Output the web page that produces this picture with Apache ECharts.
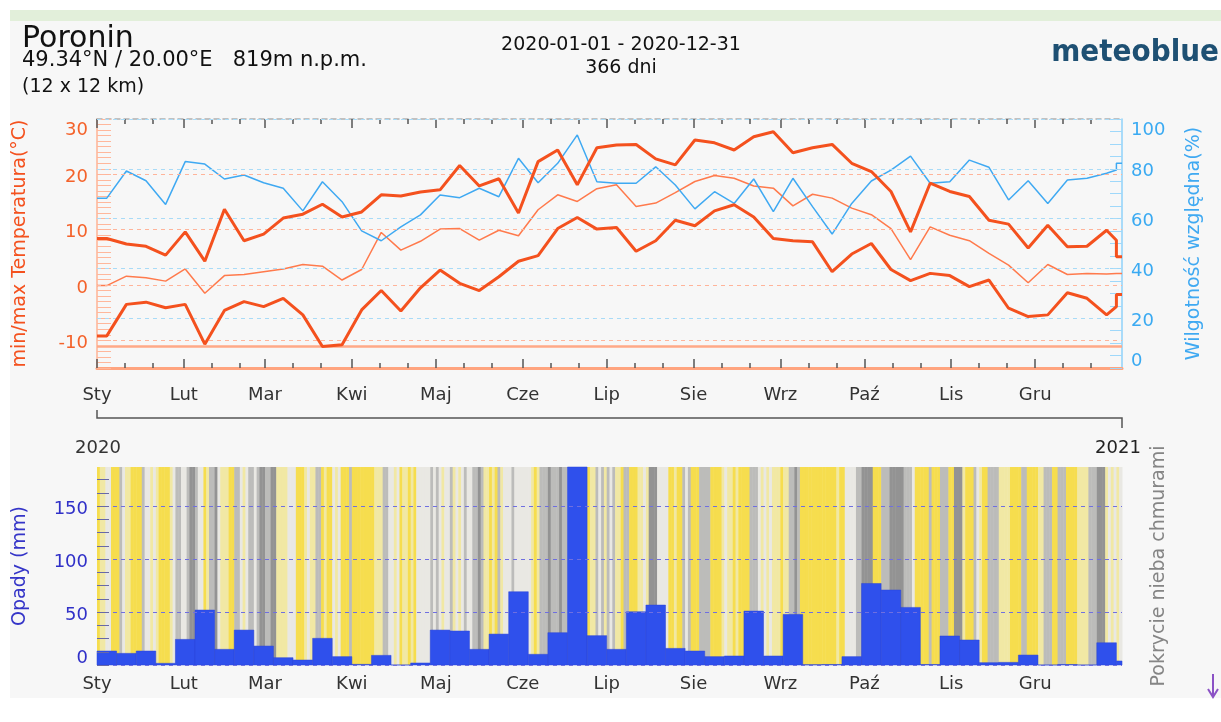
<!DOCTYPE html>
<html lang="pl">
<head>
  <meta charset="UTF-8">
  <title>Poronin 2020</title>
  <script src="https://cdn.jsdelivr.net/npm/echarts@6.0.0/dist/echarts.min.js"></script>
  <style>
    html,
    body {
      padding: 0;
      margin: 0;
      background: #fff;
    }

    #chart {
      width: 1221px;
      height: 722px;
    }
  </style>
</head>

<body>
  <div id="chart"></div>
  <script>
    // miesiące (dzień roku 2020, od 0)
    const months = ['Sty', 'Lut', 'Mar', 'Kwi', 'Maj', 'Cze', 'Lip', 'Sie', 'Wrz', 'Paź', 'Lis', 'Gru']
    const monthStart = [0, 31, 60, 91, 121, 152, 182, 213, 244, 274, 305, 335]

    // wartości tygodniowe (52 pełne tygodnie)
    const tMax = [8.4, 7.4, 7.0, 5.4, 9.6, 4.3, 13.7, 8.0, 9.2, 12.1, 12.8, 14.6, 12.3, 13.2, 16.3, 16.1, 16.8, 17.2, 21.6, 17.9,
      19.2, 13.0, 22.3, 24.4, 18.1, 24.8, 25.3, 25.4, 22.8, 21.7, 26.2, 25.7, 24.4, 26.8, 27.7, 23.9, 24.8, 25.4, 22.0, 20.5,
      16.9, 9.6, 18.4, 16.9, 16.0, 11.7, 11.0, 6.7, 10.8, 6.9, 7.0, 9.9]
    const tMean = [-0.1, 1.6, 1.3, 0.7, 2.9, -1.5, 1.7, 1.9, 2.4, 2.9, 3.7, 3.4, 0.9, 2.8, 9.5, 6.3, 7.9, 10.1, 10.2, 8.1,
      9.9, 8.9, 13.6, 16.3, 15.1, 17.4, 18.1, 14.2, 14.8, 16.7, 18.7, 19.8, 19.3, 17.9, 17.5, 14.3, 16.4, 15.7, 13.9, 12.7,
      10.2, 4.6, 10.5, 9.0, 8.0, 5.7, 3.6, 0.4, 3.7, 1.9, 2.1, 2.0]
    const tMin = [-9.2, -3.5, -3.1, -4.1, -3.5, -10.7, -4.6, -3.0, -3.9, -2.4, -5.4, -11.1, -10.8, -4.5, -1.0, -4.7, -0.5, 2.7, 0.3, -1.0,
      1.5, 4.3, 5.3, 10.2, 12.2, 10.1, 10.4, 6.1, 8.0, 11.7, 10.7, 13.4, 14.5, 12.3, 8.4, 8.0, 7.8, 2.4, 5.6, 7.5,
      2.8, 0.8, 2.1, 1.7, -0.3, 0.9, -4.2, -5.7, -5.4, -1.4, -2.4, -5.4]
    const humidity = [68.2, 79.1, 75.2, 65.7, 82.9, 81.9, 75.9, 77.5, 74.4, 72.2, 63.1, 74.8, 66.8, 55.1, 51.1, 56.7, 61.5, 69.5, 68.4, 72.2,
      68.8, 84.2, 74.4, 82.2, 93.6, 74.8, 74.2, 74.2, 80.8, 73.5, 63.9, 70.8, 66.1, 75.9, 62.8, 76.2, 64.8, 53.8, 66.1, 75.1,
      79.5, 85.1, 74.2, 74.8, 83.5, 80.6, 67.5, 75.2, 66.1, 75.5, 76.2, 78.2]
    // końcówka roku: wartość przed skokiem i dla ostatnich 2 dni (30-31 XII)
    const tMaxEnd = [8.1, 5.1]
    const tMeanEnd = [2.1, 2.1]
    const tMinEnd = [-3.9, -1.7]
    const humidityEnd = [79.5, 82.2]

    // opady tygodniowe (mm), 53 słupki, ostatni 2-dniowy
    const precip = [13.2, 11.0, 13.2, 1.6, 24.2, 51.9, 14.8, 33.0, 17.9, 6.9, 4.7, 25.2, 7.9, 0.6, 9.1, 0, 1.9,
      33.0, 32.1, 14.8, 29.2, 69.2, 10.1, 30.5, 190, 27.7, 14.8, 50.3, 56.6, 15.7, 13.2, 7.9, 8.5, 50.9, 8.5, 47.8,
      0.3, 0.5, 7.9, 77.0, 70.8, 54.4, 0.5, 27.4, 23.6, 2.2, 2.5, 9.4, 0, 0.5, 0, 21.0, 3.8]

    // zachmurzenie dzienne, 0 = słonecznie ... 4 = pochmurno (366 dni)
    const cloudDays =
      '01122000321100003221210000123322344322013342111003321233234433441111222000121133010021200' + '03' +
      '00000000111332212011010222223232122312123223343110103122232222221013334333433232333101132313231' +
      '10330001121444222200100323000333300001211010000333212121110113343000000000000010022223344440' +
      '0033344444333200000300033300444100032100333311110000330000113330033300001111333444121212'

    const tempLabels = [-10, 0, 10, 20, 30]
    const tempGrid = [-10, 0, 10, 20]

    const FONT = 'DejaVu Sans'
    const C_T = '#f4511e'
    const C_TL = '#ff7a4c'
    const C_H = '#3fa9f2'
    const C_P = '#2f50ec'
    const cloudColors = ['#f6dd4e', '#f1e8a4', '#e9e8e3', '#bcbcba', '#939393']

    function weekly(vals, end) {
      const pts = [[0, vals[0]]]
      vals.forEach((v, k) => pts.push([3.5 + 7 * k, v]))
      pts.push([364, end[0]], [364, end[1]], [366, end[1]])
      return pts
    }

    // położenia kresek osi
    const tickMajor = monthStart
    const tickMinor = []
    monthStart.forEach(d => tickMinor.push(d + 10, d + 20))
    const tempTicks = []
    for (let t = -15; t <= 30; t++) tempTicks.push(t)
    const humTicks = []
    for (let h = 0; h <= 100; h += 5) humTicks.push(h)
    const precipTicks = []
    for (let p = 0; p <= 187; p += 12.5) precipTicks.push(p)

    const cloudData = cloudDays.split('').map((c, i) => [i, +c])
    const precipData = precip.map((v, k) => [7 * k, Math.min(7 * k + 7, 366), v])

    function rich(color, size) {
      const base = { color: color, fontSize: size, fontFamily: FONT }
      return {
        n: Object.assign({ padding: [6, 0, 0, 0] }, base),
        top: Object.assign({ padding: [22, 0, 0, 0] }, base),
        bot: Object.assign({ padding: [0, 0, 14, 0] }, base)
      }
    }

    function monthAxis(grid, pos, ticks, len, label, margin) {
      return {
        type: 'value', gridIndex: grid, min: 0, max: 366, position: pos,
        axisLine: { show: false, onZero: false },
        axisTick: ticks ? { customValues: ticks, inside: true, length: len, lineStyle: { color: '#555', width: 1.5 } } : { show: false },
        axisLabel: label ? {
          customValues: monthStart, margin: margin, color: '#333', fontSize: 18,
          formatter: v => months[monthStart.indexOf(v)]
        } : { show: false },
        splitLine: { show: false }
      }
    }

    const xTopBottom = monthAxis(0, 'bottom', tickMajor, 9, true, 18)
    xTopBottom.axisLine = { show: true, onZero: false, lineStyle: { color: '#ffa47f', width: 3 } }
    const xTopTop = monthAxis(0, 'top', tickMajor, 9, false)
    xTopTop.axisLine = { show: true, onZero: false, lineStyle: { color: '#b0b0b0', width: 1.5, type: [5, 4] } }

    const chart = echarts.init(document.getElementById('chart'))
    chart.setOption({
      animation: false,
      backgroundColor: '#fff',
      textStyle: { fontFamily: FONT },
      grid: [
        { left: 97, right: 99, top: 119, height: 249 },
        { left: 97, right: 99, top: 467, height: 198 }
      ],
      xAxis: [
        xTopBottom,
        monthAxis(0, 'bottom', tickMinor, 5, false),
        xTopTop,
        monthAxis(0, 'top', tickMinor, 5, false),
        monthAxis(1, 'bottom', null, 0, true, 10)
      ],
      yAxis: [
        {
          type: 'value', gridIndex: 0, min: -15, max: 30, position: 'left',
          name: 'min/max Temperatura(°C)', nameLocation: 'middle', nameGap: 67,
          nameTextStyle: { color: C_T, fontSize: 19 },
          axisLine: { show: true, onZero: false, lineStyle: { color: '#ffb394', width: 1.5 } },
          axisTick: { customValues: tempTicks, inside: true, length: 14, lineStyle: { color: '#ffb79b', width: 1 } },
          axisLabel: {
            customValues: tempLabels, margin: 9,
            formatter: v => v === 30 ? '{top|30}' : '{n|' + v + '}',
            rich: rich('#f4622a', 18)
          },
          splitLine: { show: false }
        },
        {
          type: 'value', gridIndex: 0, min: 0, max: 100, interval: 20, position: 'right',
          name: 'Wilgotność względna(%)', nameLocation: 'middle', nameGap: 63,
          nameTextStyle: { color: C_H, fontSize: 19 },
          axisLine: { show: true, onZero: false, lineStyle: { color: '#8fd2fa', width: 1.5 } },
          axisTick: { customValues: humTicks, inside: true, length: 12, lineStyle: { color: '#9fd8fa' } },
          axisLabel: {
            customValues: [0, 20, 40, 60, 80, 100], margin: 9,
            formatter: v => v === 100 ? '{top|100}' : v === 0 ? '{bot|0}' : '{n|' + v + '}',
            rich: rich('#3aaaf2', 18)
          },
          splitLine: { show: false }
        },
        {
          type: 'value', gridIndex: 1, min: 0, max: 187, position: 'left',
          name: 'Opady (mm)', nameLocation: 'middle', nameGap: 67,
          nameTextStyle: { color: '#3535c8', fontSize: 19 },
          axisLine: { show: false, onZero: false },
          axisTick: { customValues: precipTicks, inside: true, length: 12, lineStyle: { color: '#6868a8' } },
          axisLabel: {
            customValues: [0, 50, 100, 150], margin: 9,
            formatter: v => v === 0 ? '{bot|0}' : '{n|' + v + '}',
            rich: rich('#3030c8', 18)
          },
          splitLine: { show: false },
          z: 5
        },
        {
          type: 'value', gridIndex: 1, min: 0, max: 1, position: 'right',
          name: 'Pokrycie nieba chmurami', nameLocation: 'middle', nameGap: 28,
          nameTextStyle: { color: '#858585', fontSize: 19 },
          axisLine: { show: false, onZero: false }, axisTick: { show: false },
          axisLabel: { show: false }, splitLine: { show: false }
        }
      ],
      series: [
        {
          type: 'custom', xAxisIndex: 4, yAxisIndex: 3, z: 1,
          data: cloudData,
          encode: { x: 0, y: 1 },
          renderItem: (params, api) => {
            const d = api.value(0)
            const p0 = api.coord([d, 1])
            const p1 = api.coord([d + 1, 0])
            return {
              type: 'rect',
              shape: { x: p0[0], y: p0[1], width: p1[0] - p0[0] + 0.5, height: p1[1] - p0[1] },
              style: { fill: cloudColors[api.value(1)] }
            }
          }
        },
        {
          type: 'custom', xAxisIndex: 4, yAxisIndex: 2, z: 3,
          data: precipData,
          encode: { x: [0, 1], y: 2 },
          renderItem: (params, api) => {
            const p0 = api.coord([api.value(0), api.value(2)])
            const p1 = api.coord([api.value(1), 0])
            const cs = params.coordSys
            const shape = echarts.graphic.clipRectByRect(
              { x: p0[0], y: p0[1], width: p1[0] - p0[0], height: p1[1] - p0[1] },
              { x: cs.x, y: cs.y, width: cs.width, height: cs.height })
            return shape && { type: 'rect', shape: shape, style: { fill: C_P, stroke: '#2a45d8', lineWidth: 0.5 } }
          },
          // linie siatki opadów
          markLine: {
            silent: true, symbol: 'none', label: { show: false }, z: 4,
            lineStyle: { color: '#6f6fe0', type: [4, 4], width: 1 },
            data: [0, 50, 100, 150].map(v => ({ yAxis: v }))
          }
        },
        {
          type: 'line', xAxisIndex: 0, yAxisIndex: 1, z: 2,
          data: [], symbol: 'none',
          markLine: {
            silent: true, symbol: 'none', label: { show: false },
            lineStyle: { color: '#a9dbf7', type: [4, 4], width: 1 },
            data: [20, 40, 60, 80, 100].map(v => ({ yAxis: v }))
          }
        },
        {
          type: 'line', xAxisIndex: 0, yAxisIndex: 0, z: 3,
          data: weekly(tMean, tMeanEnd), symbol: 'none',
          lineStyle: { color: C_TL, width: 1.5 },
          markLine: {
            silent: true, symbol: 'none', label: { show: false },
            lineStyle: { color: '#ffb49a', type: [4, 4], width: 1 },
            data: tempGrid.map(v => ({ yAxis: v }))
          }
        },
        {
          type: 'line', xAxisIndex: 0, yAxisIndex: 1, z: 4,
          data: weekly(humidity, humidityEnd), symbol: 'none',
          lineStyle: { color: C_H, width: 1.5 }
        },
        {
          type: 'line', xAxisIndex: 0, yAxisIndex: 0, z: 5,
          data: weekly(tMax, tMaxEnd), symbol: 'none',
          lineStyle: { color: C_T, width: 3 }
        },
        {
          type: 'line', xAxisIndex: 0, yAxisIndex: 0, z: 5,
          data: weekly(tMin, tMinEnd), symbol: 'none',
          lineStyle: { color: C_T, width: 3 },
          markLine: {
            silent: true, symbol: 'none', label: { show: false },
            lineStyle: { color: '#ffa987', type: 'solid', width: 2.5 },
            data: [{ type: 'min', valueIndex: 1 }]
          }
        }
      ],
      graphic: [
        { type: 'rect', z: -10, shape: { x: 10, y: 10, width: 1211, height: 11 }, style: { fill: '#e2efda' } },
        { type: 'rect', z: -10, shape: { x: 10, y: 21, width: 1211, height: 677 }, style: { fill: '#f7f7f7' } },
        { type: 'text', x: 22, y: 39, style: { text: 'Poronin', font: '30px ' + FONT, fill: '#111', verticalAlign: 'middle' } },
        { type: 'text', x: 22, y: 61, style: { text: '49.34°N / 20.00°E   819m n.p.m.', font: '21px ' + FONT, fill: '#111', verticalAlign: 'middle' } },
        { type: 'text', x: 22, y: 87, style: { text: '(12 x 12 km)', font: '19px ' + FONT, fill: '#111', verticalAlign: 'middle' } },
        { type: 'text', x: 621, y: 45, style: { text: '2020-01-01 - 2020-12-31', font: '19px ' + FONT, fill: '#111', align: 'center', verticalAlign: 'middle' } },
        { type: 'text', x: 621, y: 68, style: { text: '366 dni', font: '19px ' + FONT, fill: '#111', align: 'center', verticalAlign: 'middle' } },
        { type: 'text', x: 1219, y: 53, style: { text: 'meteoblue', font: 'bold 31px "DejaVu Sans Condensed"', fill: '#1e5073', align: 'right', verticalAlign: 'middle' } },
        { type: 'polyline', shape: { points: [[97, 410], [97, 418], [1122, 418], [1122, 428]] }, style: { stroke: '#555', lineWidth: 1.5, fill: null } },
        { type: 'text', x: 98, y: 448, style: { text: '2020', font: '18px ' + FONT, fill: '#333', align: 'center', verticalAlign: 'middle' } },
        { type: 'text', x: 1118, y: 448, style: { text: '2021', font: '18px ' + FONT, fill: '#222', align: 'center', verticalAlign: 'middle' } },
        { type: 'line', shape: { x1: 1213, y1: 674, x2: 1213, y2: 696 }, style: { stroke: '#8b52c5', lineWidth: 2 } },
        { type: 'polyline', shape: { points: [[1208, 689], [1213, 697], [1218, 689]] }, style: { stroke: '#8b52c5', lineWidth: 2, fill: null } }
      ]
    })
  </script>
</body>

</html>
